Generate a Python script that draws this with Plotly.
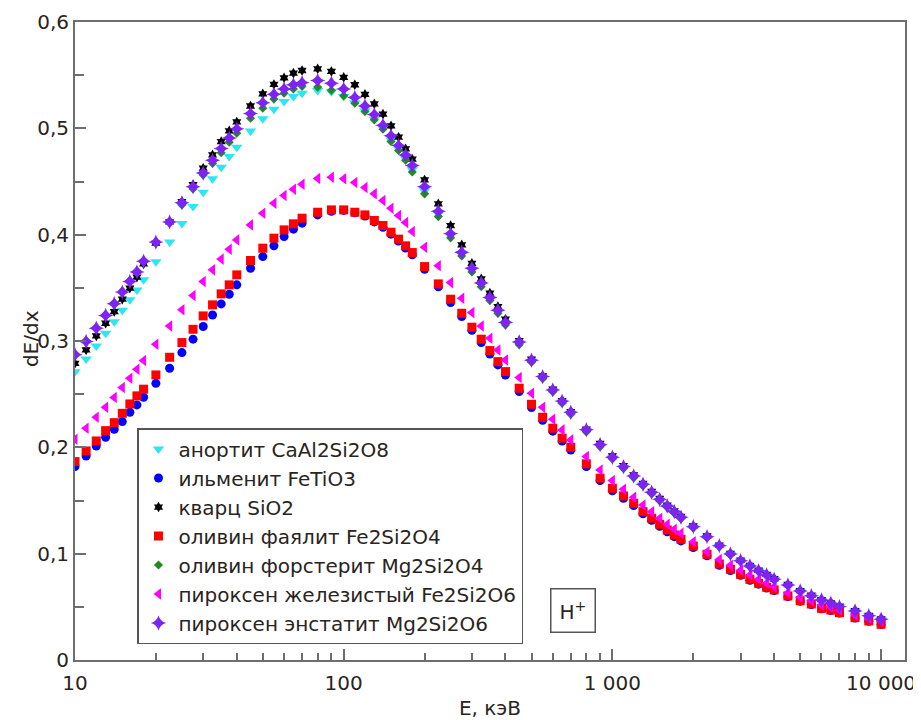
import plotly.graph_objects as go

# Proton energy, keV
energy_kev = [10, 11, 12, 13, 14, 15, 16, 17, 18, 20, 22.5, 25, 27.5, 30, 32.5, 35, 37.5, 40,
              45, 50, 55, 60, 65, 70, 80, 90, 100, 110, 120, 130, 140, 150, 160, 170, 180,
              200, 225, 250, 275, 300, 325, 350, 375, 400, 450, 500, 550, 600, 650, 700,
              800, 900, 1000, 1100, 1200, 1300, 1400, 1500, 1600, 1700, 1800, 2000, 2250,
              2500, 2750, 3000, 3250, 3500, 3750, 4000, 4500, 5000, 5500, 6000, 6500, 7000,
              8000, 9000, 10000]

anorthite = [0.271, 0.283, 0.2954, 0.3073, 0.318, 0.329, 0.3387, 0.348, 0.3575, 0.3745, 0.393,
             0.4105, 0.4265, 0.44, 0.4525, 0.4634, 0.4735, 0.4823, 0.4976, 0.509, 0.518, 0.5252,
             0.530, 0.533, 0.5355, 0.5345, 0.530, 0.524, 0.5165, 0.5085, 0.500, 0.489, 0.4805,
             0.4715, 0.461, 0.441, 0.4195, 0.399, 0.382, 0.367, 0.353, 0.3395, 0.3275, 0.3165,
             0.298, 0.281, 0.2655, 0.253, 0.2425, 0.232, 0.2155, 0.2015, 0.190, 0.181, 0.1722,
             0.1645, 0.1569, 0.1503, 0.1442, 0.1388, 0.1336, 0.1248, 0.1155, 0.107, 0.0993,
             0.093, 0.088, 0.0837, 0.0797, 0.0756, 0.0703, 0.0647, 0.0603, 0.0562, 0.0531,
             0.050, 0.0459, 0.0415, 0.0381]

ilmenite = [0.182, 0.1919, 0.2013, 0.2095, 0.217, 0.2242, 0.233, 0.2399, 0.2471, 0.2602, 0.2744,
            0.2891, 0.3017, 0.3136, 0.3245, 0.3349, 0.344, 0.3528, 0.3684, 0.3794, 0.3895, 0.3982,
            0.4052, 0.4108, 0.4186, 0.422, 0.4228, 0.4205, 0.4175, 0.412, 0.407, 0.4005, 0.394,
            0.3875, 0.381, 0.3675, 0.351, 0.3362, 0.323, 0.310, 0.2985, 0.2878, 0.2775, 0.268,
            0.2525, 0.2375, 0.2255, 0.2152, 0.206, 0.1975, 0.182, 0.1688, 0.1592, 0.152, 0.1452,
            0.1375, 0.1314, 0.1258, 0.1206, 0.116, 0.112, 0.1058, 0.098, 0.0891, 0.0842, 0.0796,
            0.075, 0.0713, 0.0677, 0.0652, 0.0596, 0.0553, 0.0522, 0.0482, 0.0466, 0.0441,
            0.0395, 0.0364, 0.0333]

quartz = [0.279, 0.2916, 0.3048, 0.3167, 0.3277, 0.3393, 0.3497, 0.360, 0.3725, 0.392, 0.412,
          0.431, 0.447, 0.4625, 0.4751, 0.4876, 0.4976, 0.506, 0.521, 0.5325, 0.5413, 0.5475,
          0.5519, 0.5544, 0.556, 0.5535, 0.548, 0.541, 0.532, 0.523, 0.5134, 0.5024, 0.4917,
          0.4807, 0.471, 0.4515, 0.429, 0.4086, 0.3904, 0.3731, 0.3584, 0.345, 0.3324, 0.3205,
          0.3004, 0.2829, 0.2672, 0.2547, 0.244, 0.2336, 0.217, 0.2038, 0.1919, 0.1829, 0.1741,
          0.1662, 0.1586, 0.152, 0.1457, 0.1403, 0.135, 0.1261, 0.1167, 0.1081, 0.1003, 0.094,
          0.0889, 0.0845, 0.0805, 0.0764, 0.071, 0.0653, 0.0609, 0.0568, 0.0537, 0.0506,
          0.0464, 0.042, 0.0386]

fayalite = [0.1866, 0.1966, 0.206, 0.2157, 0.2232, 0.232, 0.2408, 0.2484, 0.2547, 0.2681, 0.2847,
            0.2985, 0.311, 0.3236, 0.334, 0.3443, 0.3528, 0.3622, 0.3757, 0.3873, 0.3967, 0.4045,
            0.4102, 0.4155, 0.4211, 0.4233, 0.4233, 0.4211, 0.4186, 0.4133, 0.4086, 0.4023,
            0.3958, 0.3895, 0.3832, 0.370, 0.3537, 0.3393, 0.3261, 0.313, 0.3017, 0.291, 0.2806,
            0.2712, 0.2556, 0.2405, 0.2283, 0.218, 0.2086, 0.2001, 0.1845, 0.171, 0.1615, 0.1543,
            0.1474, 0.1395, 0.1333, 0.1276, 0.1223, 0.1176, 0.1135, 0.1072, 0.0994, 0.0903,
            0.0853, 0.0806, 0.0759, 0.0721, 0.0684, 0.0659, 0.0602, 0.0558, 0.0527, 0.0486,
            0.047, 0.0445, 0.0398, 0.0367, 0.0336]

forsterite = [0.288, 0.3005, 0.313, 0.325, 0.336, 0.347, 0.357, 0.366, 0.376, 0.393, 0.411, 0.428,
              0.443, 0.456, 0.467, 0.477, 0.487, 0.4954, 0.5096, 0.519, 0.5275, 0.533, 0.537,
              0.5395, 0.5388, 0.5357, 0.5306, 0.5237, 0.5158, 0.508, 0.4992, 0.4876, 0.4791,
              0.470, 0.459, 0.4384, 0.417, 0.397, 0.380, 0.365, 0.351, 0.338, 0.326, 0.315,
              0.2965, 0.280, 0.2645, 0.252, 0.2415, 0.231, 0.2145, 0.2005, 0.189, 0.180, 0.1713,
              0.1636, 0.1561, 0.1496, 0.1435, 0.1381, 0.1329, 0.1242, 0.1149, 0.1065, 0.0988,
              0.0926, 0.0876, 0.0833, 0.0793, 0.0753, 0.070, 0.0644, 0.060, 0.056, 0.0529,
              0.0498, 0.0457, 0.0414, 0.038]

pyroxene_fe = [0.2076, 0.218, 0.2283, 0.2377, 0.2468, 0.2562, 0.265, 0.2735, 0.2816, 0.297,
               0.3142, 0.3293, 0.3428, 0.3559, 0.3669, 0.377, 0.3863, 0.3951, 0.4092, 0.4202,
               0.4296, 0.4368, 0.4428, 0.4475, 0.4528, 0.454, 0.4525, 0.449, 0.4443, 0.4384,
               0.4321, 0.4249, 0.418, 0.4114, 0.403, 0.3882, 0.3707, 0.3549, 0.3403, 0.3267,
               0.3142, 0.3026, 0.2916, 0.2822, 0.2656, 0.2509, 0.2377, 0.2264, 0.2164, 0.207,
               0.1913, 0.1787, 0.1687, 0.1606, 0.1531, 0.1458, 0.1395, 0.1333, 0.1276, 0.123,
               0.1192, 0.1113, 0.1019, 0.0945, 0.089, 0.0845, 0.080, 0.0759, 0.0721, 0.069,
               0.0633, 0.059, 0.0558, 0.0517, 0.0496, 0.047, 0.0423, 0.0392, 0.0367]

enstatite = [0.287, 0.2995, 0.312, 0.324, 0.335, 0.346, 0.356, 0.365, 0.375, 0.393, 0.412, 0.430,
             0.445, 0.458, 0.470, 0.481, 0.491, 0.4995, 0.514, 0.524, 0.532, 0.537, 0.541, 0.543,
             0.545, 0.5425, 0.537, 0.529, 0.521, 0.513, 0.503, 0.493, 0.484, 0.475, 0.465,
             0.445, 0.422, 0.401, 0.3835, 0.3685, 0.3545, 0.341, 0.329, 0.3175, 0.299, 0.282,
             0.2665, 0.254, 0.2435, 0.233, 0.2165, 0.2025, 0.1907, 0.1819, 0.1731, 0.1653,
             0.1577, 0.1511, 0.1449, 0.1395, 0.1342, 0.1254, 0.116, 0.1075, 0.0997, 0.0934,
             0.0884, 0.084, 0.080, 0.0759, 0.0706, 0.0649, 0.0605, 0.0564, 0.0533, 0.0502,
             0.0461, 0.0417, 0.0383]

series_names = ["анортит CaAl2Si2O8", "ильменит FeTiO3", "кварц SiO2",
                "оливин фаялит Fe2Si2O4", "оливин форстерит Mg2Si2O4",
                "пироксен железистый Fe2Si2O6", "пироксен энстатит Mg2Si2O6"]
series_values = [anorthite, ilmenite, quartz, fayalite, forsterite, pyroxene_fe, enstatite]

x_tick_vals = [10, 100, 1000, 10000]
x_tick_text = ["10", "100", "1 000", "10 000"]
x_minor_vals = [20, 30, 40, 50, 60, 70, 80, 90, 200, 300, 400, 500, 600, 700, 800, 900,
                2000, 3000, 4000, 5000, 6000, 7000, 8000, 9000]

styles = [
    dict(symbol="triangle-down", color="#2ee6f2", size=10),
    dict(symbol="circle", color="#0000ff", size=9),
    dict(symbol="hexagram", color="#000000", size=8),
    dict(symbol="square", color="#ff0000", size=9),
    dict(symbol="diamond", color="#1e8c1e", size=7),
    dict(symbol="triangle-left", color="#ff00ff", size=10),
    dict(symbol="star-diamond", color="#7f22f5", size=11),
]

fig = go.Figure()
for name, vals, st in zip(series_names, series_values, styles):
    fig.add_trace(go.Scatter(
        x=energy_kev, y=vals, mode="markers", name=name,
        marker=dict(symbol=st["symbol"], color=st["color"], size=st["size"], line=dict(width=0)),
    ))

axis_color = "#6e6e6e"
text_color = "#2a2420"
font_family = "DejaVu Sans, Verdana, sans-serif"

# page body adds an 8px offset; figure sized/margined so the plot box lands at
# x 75..905, y 22..660 of the 921x720 window
fig.update_layout(
    width=913, height=712,
    margin=dict(l=67, r=16, t=14, b=60),
    paper_bgcolor="white", plot_bgcolor="white",
    separators=", ",
    font=dict(family=font_family, size=20, color=text_color),
    showlegend=True,
    legend=dict(
        x=0.0747, y=0.3636, xanchor="left", yanchor="top",
        bgcolor="white", bordercolor="#555555", borderwidth=1.5,
        font=dict(size=20, color=text_color),
        itemwidth=30, tracegroupgap=0,
    ),
    xaxis=dict(
        type="log", range=[1, 4.089], automargin=False,
        showgrid=False, zeroline=False,
        showline=True, linecolor=axis_color, linewidth=2, mirror=True,
        ticks="inside", ticklen=11, tickwidth=1.5, tickcolor=axis_color,
        tickmode="array", tickvals=x_tick_vals, ticktext=x_tick_text,
        tickfont=dict(size=20, color=text_color), ticklabelstandoff=4,
        minor=dict(ticks="inside", ticklen=7, tickwidth=1.5, tickcolor=axis_color,
                   tickmode="array", tickvals=x_minor_vals, showgrid=False),
        title=dict(text="E, кэВ", font=dict(size=20, color=text_color), standoff=10),
    ),
    yaxis=dict(
        range=[0, 0.6], automargin=False,
        showgrid=False, zeroline=False,
        showline=True, linecolor=axis_color, linewidth=2, mirror=True,
        ticks="inside", ticklen=11, tickwidth=1.5, tickcolor=axis_color,
        dtick=0.1, tick0=0,
        tickfont=dict(size=20, color=text_color),
        minor=dict(ticks="inside", ticklen=9, tickwidth=1.5, tickcolor=axis_color,
                   dtick=0.05, showgrid=False),
    ),
    annotations=[
        dict(text="dE/dx", x=-0.053, y=0.503, xref="paper", yref="paper",
             xanchor="center", yanchor="middle", textangle=-90, showarrow=False,
             font=dict(size=20, color=text_color)),
        dict(text="H<sup>+</sup>", x=0.6, y=0.078, xref="paper", yref="paper",
             xanchor="center", yanchor="middle",
             showarrow=False, font=dict(size=20, color=text_color),
             bordercolor="#555555", borderwidth=1.5, borderpad=8, bgcolor="white"),
    ],
)

fig.write_html("out.html")
